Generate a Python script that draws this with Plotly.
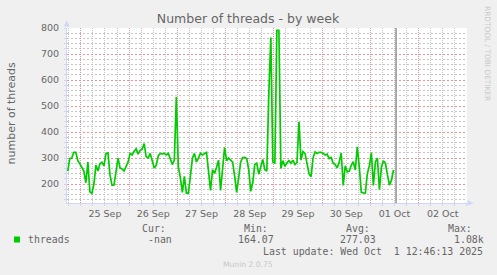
import pandas as pd
import plotly.graph_objects as go

# ---------------- data ----------------
START = "2025-09-24 17:30"          # first hourly sample
threads = [
    250, 298, 300, 322, 322, 290, 278, 265, 250, 205,
    285, 170, 164, 200, 273, 250, 278, 284, 270, 318,
    320, 235, 195, 196, 240, 300, 262, 258, 250, 265,
    285, 318, 312, 326, 335, 315, 330, 334, 356, 305,
    300, 318, 288, 262, 272, 308, 318, 316, 318, 312,
    318, 300, 275, 292, 535, 265, 225, 168, 230, 165,
    165, 230, 300, 318, 285, 300, 318, 312, 318, 322,
    250, 175, 255, 241, 265, 292, 175, 250, 340, 290,
    300, 292, 284, 230, 168, 225, 285, 302, 303, 298,
    255, 172, 205, 275, 280, 238, 270, 295, 255, 250,
    549, 764, 285, 280, 792, 792, 260, 290, 268, 282,
    290, 280, 292, 275, 282, 440, 292, 325, 318, 282,
    240, 228, 300, 324, 318, 322, 322, 318, 312, 315,
    298, 302, 280, 275, 262, 285, 320, 195, 270, 247,
    250, 272, 286, 254, 343, 265, 168, 166, 165, 240,
    270, 320, 195, 285, 300, 178, 265, 290, 280, 235,
    196, 215, 254,
]
times = pd.date_range(START, periods=len(threads), freq="h")

LAST_UPDATE = "2025-10-01 12:46:13"
X_RANGE = ["2025-09-24 17:07", "2025-10-03 00:04"]
Y_RANGE = [127, 800.6]
Y_TICKS = [200, 300, 400, 500, 600, 700, 800]

series_name = "threads"
stat_labels = ["Cur:", "Min:", "Avg:", "Max:"]
stat_values = ["-nan", "164.07", "277.03", "1.08k"]
last_update_text = "Last update: Wed Oct \u00a01 12:46:13 2025"

# ---------------- style ----------------
W, H = 497, 275
L, R, T, B = 67, 467, 28, 203
FONT = "DejaVu Sans"
MONO = "DejaVu Sans Mono"
FC = "#666666"
AXIS = "#CFD6F8"
MGRID = "#E29595"
GRID = "#C6C6C6"
GREEN = "#00CC00"


def px(x):
    return (x - L) / (R - L)


def py(y):
    return (B - y) / (B - T)


fig = go.Figure()
fig.add_trace(go.Scatter(
    x=times, y=threads, mode="lines", name=series_name,
    line=dict(color=GREEN, width=1.7), hoverinfo="skip", showlegend=False,
))

fig.add_vline(x=pd.Timestamp(LAST_UPDATE).value / 1e6, line=dict(color="#929292", width=1.5))

fig.update_layout(
    width=W, height=H,
    margin=dict(l=L, r=W - R, t=T, b=H - B, pad=0),
    paper_bgcolor="#F0F0F0", plot_bgcolor="#FFFFFF",
    showlegend=False,
    font=dict(family=FONT, color=FC, size=9.5),
    title=dict(text="Number of threads - by week", x=248 / W, y=1 - 19 / H,
               xanchor="center", yanchor="middle", xref="container", yref="container",
               font=dict(family=FONT, size=12.5, color=FC)),
)

fig.update_xaxes(
    type="date", range=X_RANGE,
    tick0="2025-09-25", dtick=86400000, ticklabelmode="period", tickformat="%d %b",
    showgrid=True, gridcolor=MGRID, griddash="1px,1px", gridwidth=1,
    minor=dict(dtick=6 * 3600000, showgrid=True, gridcolor=GRID, griddash="1px,1px",
               ticks="outside", ticklen=2, tickcolor=AXIS),
    showline=True, linecolor=AXIS, linewidth=1,
    ticks="outside", ticklen=2, tickcolor=AXIS,
    tickfont=dict(family=FONT, size=9.5, color=FC),
    zeroline=False,
)
fig.update_yaxes(
    range=Y_RANGE, tickvals=Y_TICKS,
    showgrid=True, gridcolor=MGRID, griddash="2px,2px", gridwidth=1,
    minor=dict(dtick=20, tick0=0, showgrid=True, gridcolor=GRID, griddash="2px,2px",
               ticks="outside", ticklen=2, tickcolor=AXIS),
    showline=True, linecolor=AXIS, linewidth=1,
    ticks="outside", ticklen=2, tickcolor=AXIS, ticklabelstandoff=3,
    tickfont=dict(family=FONT, size=9.5, color=FC),
    zeroline=False,
)

# axis arrows
fig.add_shape(type="path", xref="paper", yref="paper",
              path=f"M {px(63.7)} {py(26.5)} L {px(69.7)} {py(26.5)} L {px(66.7)} {py(20.5)} Z",
              fillcolor=AXIS, line=dict(width=0))
fig.add_shape(type="path", xref="paper", yref="paper",
              path=f"M {px(467.5)} {py(200)} L {px(467.5)} {py(206)} L {px(473.5)} {py(203)} Z",
              fillcolor=AXIS, line=dict(width=0))

ann = []
# y axis title
ann.append(dict(text="number of threads", x=px(10.5), y=py(113), xref="paper", yref="paper",
                textangle=-90, showarrow=False, xanchor="center", yanchor="middle",
                font=dict(family=FONT, size=11, color=FC)))
# watermark
ann.append(dict(text="RRDTOOL / TOBI OETIKER", x=px(487.5), y=py(53.5), xref="paper", yref="paper",
                textangle=90, showarrow=False, xanchor="center", yanchor="middle",
                font=dict(family=FONT, size=7.4, color="#C8C8C8")))

# legend
fig.add_shape(type="rect", xref="paper", yref="paper",
              x0=px(14), x1=px(20), y0=py(242.5), y1=py(236.5),
              fillcolor=GREEN, line=dict(width=0))
ann.append(dict(text=series_name, x=px(25.7), y=py(239.8), xref="paper", yref="paper",
                showarrow=False, xanchor="left", yanchor="middle",
                font=dict(family=MONO, size=9.9, color=FC)))
label_x = [139.7, 241.7, 344.0, 445.7]
value_x = [146.0, 235.7, 338.0, 452.3]
for lx, vx, lab, val in zip(label_x, value_x, stat_labels, stat_values):
    ann.append(dict(text=lab, x=px(lx), y=py(228.3), xref="paper", yref="paper",
                    showarrow=False, xanchor="left", yanchor="middle",
                    font=dict(family=MONO, size=9.9, color=FC)))
    ann.append(dict(text=val, x=px(vx), y=py(239.8), xref="paper", yref="paper",
                    showarrow=False, xanchor="left", yanchor="middle",
                    font=dict(family=MONO, size=9.9, color=FC)))
ann.append(dict(text=last_update_text, x=px(260.7), y=py(251.2), xref="paper", yref="paper",
                showarrow=False, xanchor="left", yanchor="middle",
                font=dict(family=MONO, size=9.9, color=FC)))
ann.append(dict(text="Munin 2.0.75", x=px(248), y=py(264.5), xref="paper", yref="paper",
                showarrow=False, xanchor="center", yanchor="middle",
                font=dict(family=FONT, size=7.6, color="#C8C8C8")))
fig.update_layout(annotations=ann)

fig.write_html("out.html")
